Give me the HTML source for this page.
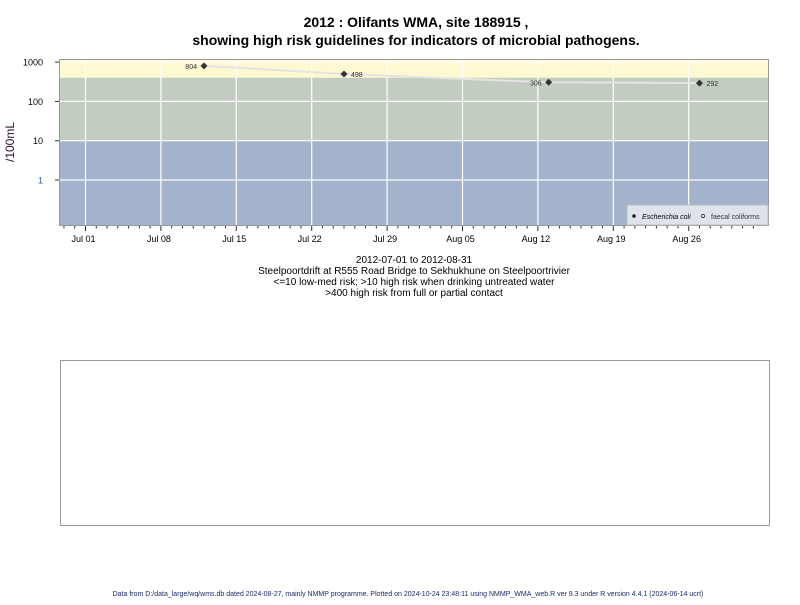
<!DOCTYPE html>
<html><head><meta charset="utf-8"><style>
body{margin:0;background:#fff;font-family:"Liberation Sans",Arial,sans-serif}
</style></head><body>
<svg width="800" height="600" xmlns="http://www.w3.org/2000/svg" font-family="Liberation Sans, Arial, sans-serif">
<text x="416" y="27" text-anchor="middle" font-size="14" font-weight="bold">2012 : Olifants WMA, site 188915 ,</text>
<text x="416" y="45" text-anchor="middle" font-size="14" font-weight="bold">showing high risk guidelines for indicators of microbial pathogens.</text>
<g id="plot"></g>
<text x="14" y="142" font-size="12" transform="rotate(-90 14 142)" text-anchor="middle" fill="#301030">/100mL</text>
<g font-size="10" text-anchor="middle">
<text x="414" y="263">2012-07-01 to 2012-08-31</text>
<text x="414" y="274">Steelpoortdrift at R555 Road Bridge to Sekhukhune on Steelpoortrivier</text>
<text x="414" y="285">&lt;=10 low-med risk; &gt;10 high risk when drinking untreated water</text>
<text x="414" y="296">&gt;400 high risk from full or partial contact</text>
</g>
<rect x="60.5" y="360.5" width="709" height="165" fill="none" stroke="#999"/>
<text x="408" y="596" text-anchor="middle" font-size="7" fill="#1a2a6a">Data from D:/data_large/wq/wms.db dated 2024-08-27, mainly NMMP programme. Plotted on 2024-10-24 23:48:11 using NMMP_WMA_web.R ver 9.3 under R version 4.4.1 (2024-06-14 ucrt)</text>
</svg>
<script>
const dayOffsets=[11,24,43,57];
const ecoliValues=[804,498,306,292];
const xTickLabels=["Jul 01","Jul 08","Jul 15","Jul 22","Jul 29","Aug 05","Aug 12","Aug 19","Aug 26"];
const yTickValues=[1,10,100,1000];
const bandLimits=[10,400];
const NS="http://www.w3.org/2000/svg";
const L=59,R=769,T=59,B=226;
const x=d=>85.5+d*75.4/7;
const y=v=>180-39.3*Math.log10(v);
const g=document.getElementById('plot');
function mk(t,a,p){const e=document.createElementNS(NS,t);for(const k in a)e.setAttribute(k,a[k]);(p||g).appendChild(e);return e;}
let e;
e=mk('rect',{x:L,y:T,width:R-L,height:y(bandLimits[1])-T,fill:'#fef9d0'});


e=mk('rect',{x:L,y:y(bandLimits[1]),width:R-L,height:y(bandLimits[0])-y(bandLimits[1]),fill:'#c2ccc0'});


e=mk('rect',{x:L,y:y(bandLimits[0]),width:R-L,height:B-y(bandLimits[0]),fill:'#a2b3cb'});


yTickValues.forEach(v=>{
 e=mk('line',{x1:L,x2:R,y1:y(v),y2:y(v),stroke:'#fff','stroke-width':1.2});
 
 
 mk('line',{x1:L-4,x2:L,y1:y(v),y2:y(v),stroke:'#333'});
 e=mk('text',{x:L-16,y:y(v)+3.5,'font-size':9,'text-anchor':'end',fill:v==1?'#2060c0':'#000'});e.textContent=v;
 
 
});
xTickLabels.forEach((s,i)=>{
 const xx=x(i*7);
 e=mk('line',{x1:xx,x2:xx,y1:T,y2:B,stroke:'#fff','stroke-width':1.2});
 
 
 mk('line',{x1:xx,x2:xx,y1:B,y2:B+5,stroke:'#333'});
 e=mk('text',{x:xx-2,y:B+16,'font-size':9,'text-anchor':'middle'});e.textContent=s;
 
 
});
for(let d=-2;d<=63;d++){if(d%7)mk('line',{x1:x(d),x2:x(d),y1:B,y2:B+2.5,stroke:'#333'});}
e=mk('polyline',{points:dayOffsets.map((d,i)=>x(d)+','+y(ecoliValues[i])).join(' '),fill:'none',stroke:'#e4e4e4','stroke-width':2});


dayOffsets.forEach((d,i)=>{
 const px=x(d),py=y(ecoliValues[i]);
 e=mk('path',{d:`M${px-3.5},${py}L${px},${py-3.5}L${px+3.5},${py}L${px},${py+3.5}Z`,fill:'#333'});
 
 
 const left=(i%2==0);
 e=mk('text',{x:left?px-7:px+7,y:py+3,'font-size':7,fill:'#333','text-anchor':left?'end':'start'});e.textContent=ecoliValues[i];
 
 
});
e=mk('rect',{x:L+.5,y:T+.5,width:R-L-1,height:B-T-1,fill:'none',stroke:'#999'});


const lg=mk('g',{});


mk('rect',{x:627,y:205,width:141,height:20,fill:'#dfe4ec',stroke:'#bbb'},lg);
mk('circle',{cx:634,cy:216,r:1.8,fill:'#222'},lg);
e=mk('text',{x:642,y:219,'font-size':7,'font-style':'italic'},lg);e.textContent='Escherichia coli';


mk('circle',{cx:703,cy:216,r:1.6,fill:'none',stroke:'#222','stroke-width':.7},lg);
e=mk('text',{x:711,y:219,'font-size':7,fill:'#334'},lg);e.textContent='faecal coliforms';


</script>
</body></html>
